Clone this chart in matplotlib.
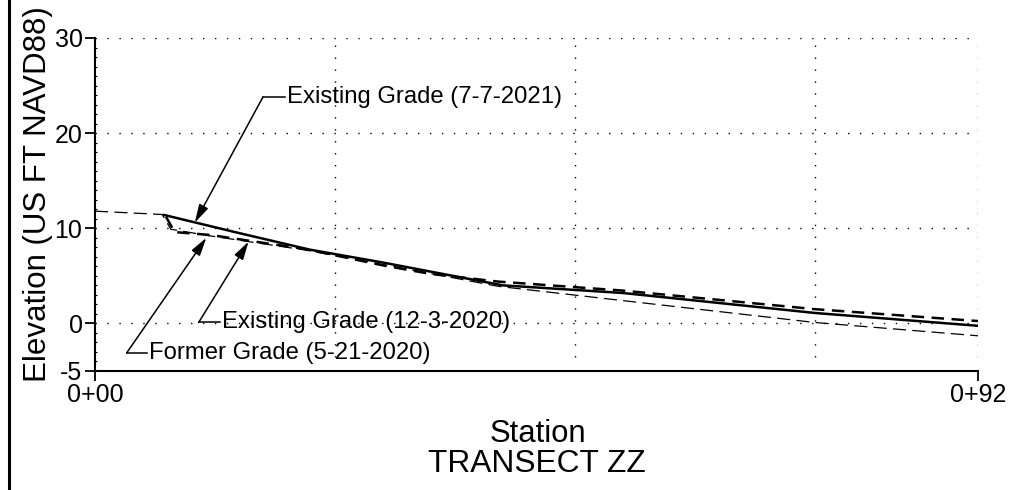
import matplotlib
matplotlib.use('Agg')
import matplotlib.pyplot as plt
from matplotlib.lines import Line2D
from matplotlib.ticker import MultipleLocator

plt.rcParams['font.family'] = ['Liberation Sans', 'DejaVu Sans']
plt.rcParams['axes.unicode_minus'] = False

# Transect ZZ survey profiles (station in ft, elevation in US FT NAVD88)
station_2021 = [7.2, 15, 22.4, 30, 42.5, 55, 75, 92]
elev_2021 = [11.4, 9.5, 7.75, 6.4, 4.0, 3.2, 1.1, -0.25]

station_dec2020 = [7.4, 8.3, 12, 16, 22, 30, 35, 42, 55, 75, 92]
elev_dec2020 = [11.2, 9.6, 9.3, 8.7, 7.8, 6.1, 5.2, 4.4, 3.45, 1.5, 0.25]

station_former = [0, 7.0, 7.9, 12, 16, 22, 30, 42, 55, 75, 92]
elev_former = [11.8, 11.45, 9.9, 9.2, 8.6, 7.7, 6.2, 3.9, 2.4, 0.1, -1.3]

x_ticks = [0, 92]
x_tick_labels = ['0+00', '0+92']
y_ticks = [-5, 0, 10, 20, 30]
grid_y = [0, 10, 20, 30]
grid_x = [25, 50, 75, 92]

fig = plt.figure(figsize=(10.1, 4.9), dpi=100)
ax = fig.add_axes([95 / 1010, 1 - 371 / 490, 883 / 1010, 333 / 490])

# dotted grid
dot = (0, (1, 7.6))
for gy in grid_y:
    ax.plot([0, 92], [gy, gy], color='black', lw=1, linestyle=dot, zorder=1)
ax.vlines(grid_x, -3.5, 30, color='black', lw=1, linestyles=[dot], zorder=1)

# profiles
ax.plot(station_former, elev_former, color='black', lw=0.9, dashes=(10.5, 5), zorder=3)
ax.plot(station_dec2020, elev_dec2020, color='black', lw=1.8, dashes=(5, 3), zorder=3)
ax.plot(station_2021, elev_2021, color='black', lw=1.8, zorder=4)

# leader callouts: (label, tip, knee, text x)
callouts = [
    ('Existing Grade (7-7-2021)', (10.4, 10.6), (17.5, 23.8), 20.0),
    ('Former Grade (5-21-2020)', (11.6, 9.0), (3.3, -3.1), 5.6),
    ('Existing Grade (12-3-2020)', (16.0, 8.6), (10.8, 0.1), 13.2),
]
for label, tip, knee, tx in callouts:
    ax.annotate('', xy=tip, xytext=knee,
                arrowprops=dict(arrowstyle='-|>,head_length=0.55,head_width=0.15',
                                mutation_scale=20, color='black', lw=1.1,
                                shrinkA=0, shrinkB=0), zorder=5)
    ax.plot([knee[0], tx - 0.2], [knee[1], knee[1]], color='black', lw=1.1, zorder=5)
    ax.text(tx, knee[1], label, fontsize=17.2, va='center', ha='left', zorder=6)

ax.set_xlim(0, 92)
ax.set_ylim(-5, 30)
ax.spines['top'].set_visible(False)
ax.spines['right'].set_visible(False)
ax.spines['left'].set_linewidth(1.5)
ax.spines['bottom'].set_linewidth(1.5)

ax.set_xticks(x_ticks)
ax.set_xticklabels(x_tick_labels)
ax.set_yticks(y_ticks)
ax.yaxis.set_minor_locator(MultipleLocator(1))
ax.tick_params(axis='both', which='major', direction='out', length=7, width=1.3,
               labelsize=18, pad=2)
ax.tick_params(axis='y', which='minor', direction='in', length=1.5, width=0.8)

fig.text(38 / 1010, 1 - 194 / 490, 'Elevation (US FT NAVD88)', rotation=90,
         ha='center', va='center', fontsize=22.5)
fig.text(538 / 1010, 1 - 441.7 / 490, 'Station', ha='center', va='baseline', fontsize=22.3)
fig.text(537 / 1010, 1 - 471.7 / 490, 'TRANSECT ZZ', ha='center', va='baseline', fontsize=22.8)

# sheet border on the left
fig.add_artist(Line2D([8.5 / 1010, 8.5 / 1010], [0, 1], color='black', lw=2.2))

fig.savefig('out.png', dpi=100)
